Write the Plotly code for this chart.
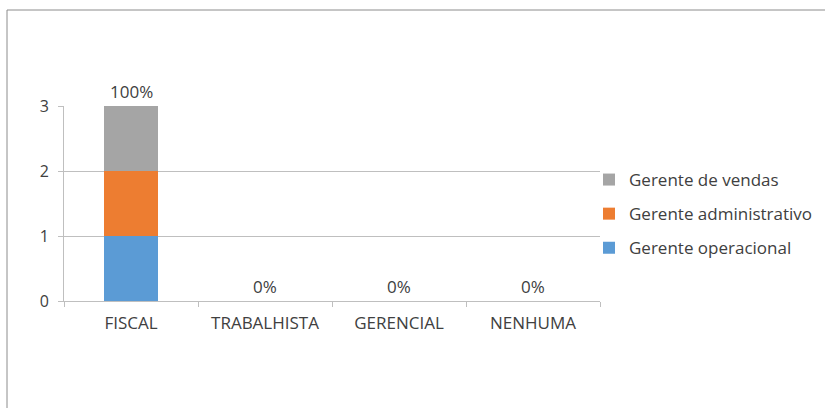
import plotly.graph_objects as go

categories = ["FISCAL", "TRABALHISTA", "GERENCIAL", "NENHUMA"]
gerente_operacional = [1, 0, 0, 0]
gerente_administrativo = [1, 0, 0, 0]
gerente_vendas = [1, 0, 0, 0]
pct_labels = ["100%", "0%", "0%", "0%"]
y_ticks = [0, 1, 2, 3]

FONT = "Open Sans, Calibri, sans-serif"
TXT = "#404040"

series = [
    ("Gerente operacional", gerente_operacional, "#5B9BD5", 3),
    ("Gerente administrativo", gerente_administrativo, "#ED7D31", 2),
    ("Gerente de vendas", gerente_vendas, "#A5A5A5", 1),
]

fig = go.Figure()
for i, (name, vals, color, rank) in enumerate(series):
    fig.add_trace(go.Bar(x=categories, y=vals, name=name, marker_color=color,
                         marker_line_width=0, legendgroup=f"g{i}", legendrank=rank))

totals = [a + b + c for a, b, c in zip(gerente_operacional, gerente_administrativo, gerente_vendas)]
for cat, tot, lab in zip(categories, totals, pct_labels):
    fig.add_annotation(x=cat, y=tot, text=lab, showarrow=False, yanchor="bottom",
                       yshift=1, font=dict(family=FONT, size=17, color=TXT))

L, R, T, B = 64, 225, 106, 107
W, H = 825, 408
pw, ph = W - L - R, H - T - B

fig.add_shape(type="rect", xref="paper", yref="paper",
              x0=(7 - L) / pw, x1=(W + 20 - L) / pw,
              y0=(H - B - (H + 20)) / ph, y1=(H - B - 10) / ph,
              line=dict(color="#8C8C8C", width=1), fillcolor="rgba(0,0,0,0)", layer="below")

fig.update_layout(
    width=W, height=H,
    margin=dict(l=L, r=R, t=T, b=B, autoexpand=False),
    barmode="stack", bargap=0.6,
    plot_bgcolor="white", paper_bgcolor="white",
    font=dict(family=FONT, size=17, color=TXT),
    showlegend=True,
    legend=dict(x=(589 - L) / pw, y=(H - B - 214) / ph, xanchor="left", yanchor="middle",
                traceorder="grouped", tracegroupgap=9,
                font=dict(family=FONT, size=17, color=TXT), bgcolor="rgba(0,0,0,0)"),
    xaxis=dict(type="category", tickson="boundaries", ticks="outside", ticklen=5,
               tickcolor="#BFBFBF", showline=True, linecolor="#BFBFBF", showgrid=False,
               ticklabelstandoff=7,
               tickfont=dict(family=FONT, size=17, color=TXT)),
    yaxis=dict(range=[0, 3], tickvals=y_ticks, ticks="outside", ticklen=5, tickcolor="#BFBFBF",
               showline=True, linecolor="#BFBFBF", gridcolor="#BFBFBF", gridwidth=1,
               zeroline=False, ticklabelstandoff=6,
               tickfont=dict(family=FONT, size=16, color=TXT)),
)

fig.write_html("out.html", config={"displayModeBar": False},
               post_script="document.body.style.margin='0';")
